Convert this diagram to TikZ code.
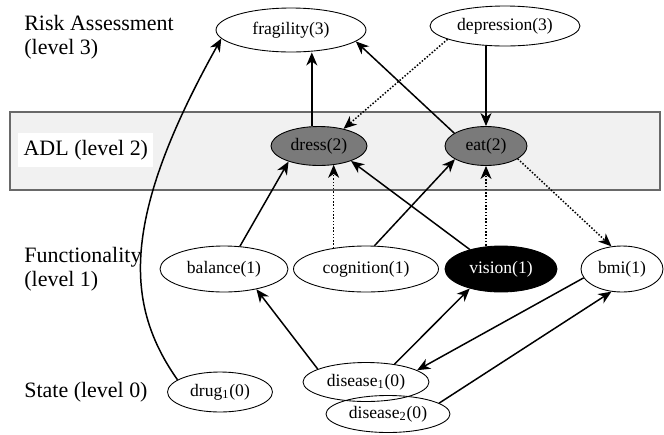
\documentclass[tikz,border=0pt]{standalone}
\usepackage{fontspec}
\setmainfont{Liberation Serif}
\usepackage{xcolor}
\usepackage{tikz}
\usetikzlibrary{arrows.meta, positioning, shapes.geometric, calc}
\definecolor{adlband}{RGB}{241,241,241}
\definecolor{adlnode}{RGB}{122,122,122}
\definecolor{bandline}{RGB}{105,105,105}

\begin{document}
\begin{tikzpicture}[
  x=0.02cm, y=-0.02cm,
  var/.style={ellipse, draw, line width=0.5pt, inner sep=0pt,
              font=\fontsize{10}{12}\selectfont},
  adl/.style={var, fill=adlnode},
  dims/.style 2 args={minimum width=#1, minimum height=#2},
  level/.style={align=left, anchor=west, inner sep=0pt,
                font=\fontsize{12.5}{13.5}\selectfont},
  arrow/.style={-{Stealth[length=2.6mm, width=2.2mm, inset=0.8mm]}, line width=0.85pt},
  dotarrow/.style={arrow, densely dotted}]

  \useasboundingbox (0,0) rectangle (664,434);
  \draw[bandline, fill=adlband, line width=0.6pt] (10,112) rectangle (660,190);

  \node[level] (L3) at (24,37)  {Risk Assessment\\(level 3)};
  \node[level, fill=white, inner sep=0pt, dims={2.7cm}{0.68cm}] (L2) at (18,150) {ADL (level 2)};
  \node[level] (L1) at (24,269) {Functionality\\(level 1)};
  \node[level] (L0) at (24,392) {State (level 0)};

  \node[var, dims={3.0cm}{0.88cm}]  (frag)  at (291,30)  {fragility(3)};
  \node[var, dims={3.0cm}{0.80cm}]  (depr)  at (505,26)  {depression(3)};
  \node[adl, dims={1.92cm}{0.78cm}] (dress) at (319,146) {dress(2)};
  \node[adl, dims={1.64cm}{0.78cm}] (eat)   at (486,146) {eat(2)};
  \node[var, dims={2.56cm}{0.92cm}] (bal)   at (224,269) {balance(1)};
  \node[var, dims={2.90cm}{0.92cm}] (cog)   at (366,269) {cognition(1)};
  \node[var, dims={2.24cm}{0.92cm}, fill=black, text=white] (vis) at (501,269) {vision(1)};
  \node[var, dims={1.64cm}{0.92cm}] (bmi)   at (622,269) {bmi(1)};
  \node[var, dims={2.10cm}{0.80cm}] (drug)  at (220,392) {drug\textsubscript{1}(0)};
  \node[var, dims={2.52cm}{0.78cm}] (dis1)  at (366,382) {disease\textsubscript{1}(0)};
  \node[var, dims={2.48cm}{0.74cm}] (dis2)  at (388,414) {disease\textsubscript{2}(0)};

  \draw[arrow] (drug.164) .. controls (125,305) and (120,220) .. (frag.187);
  \draw[arrow] (dress.110) -- (dress.110 |- frag.south);
  \draw[arrow] (eat.158) -- (frag.-10);
  \draw[dotarrow] (depr.193) -- (dress.35);
  \draw[arrow] (eat.north |- depr.south) -- (eat.north);
  \draw[arrow] (bal.55) -- (dress.207);
  \draw[dotarrow] (cog.147) -- (cog.147 |- dress.-50);
  \draw[arrow] (vis.148) -- (dress.-25);
  \draw[arrow] (cog.70) -- (eat.203);
  \draw[dotarrow] (eat.south |- vis.north) -- (eat.south);
  \draw[dotarrow] (eat.-22) -- (bmi.115);
  \draw[arrow] (dis1.165) -- (bal.-32);
  \draw[arrow] (dis1.32) -- (vis.212);
  \draw[arrow] (bmi.193) -- (dis1.13);
  \draw[arrow] (dis2.12) -- (bmi.245);
\end{tikzpicture}
\end{document}
